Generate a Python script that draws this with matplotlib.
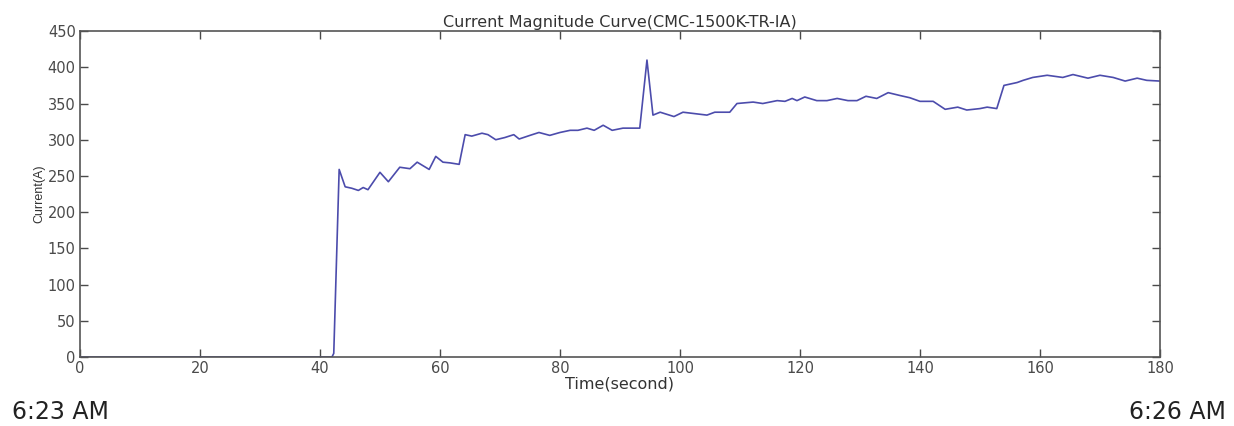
import numpy as np
import matplotlib.pyplot as plt

plt.rcParams['font.family'] = ['DejaVu Sans']

# sampled current magnitude (time in seconds, current in amps)
t_sec = [0, 42.0, 42.3, 43.2, 44.2, 45.3, 46.4, 47.2, 48.0, 50.0, 51.4, 53.3, 55.0,
         56.2, 58.2, 59.3, 60.5, 61.7, 63.2, 64.2, 65.3, 67.0, 68.0, 69.3, 70.8,
         72.3, 73.2, 75.0, 76.5, 78.3, 80.0, 81.7, 83.0, 84.5, 85.7, 87.2, 88.7,
         90.5, 92.0, 93.3, 94.5, 95.5, 96.7, 99.0, 100.5, 104.5, 105.8, 108.3,
         109.5, 112.2, 113.8, 116.2, 117.5, 118.7, 119.5, 120.8, 122.8, 124.5,
         126.2, 128.0, 129.5, 131.0, 132.8, 134.7, 136.7, 138.3, 140.0, 142.2,
         144.2, 146.3, 147.8, 150.0, 151.2, 152.8, 154.0, 156.2, 157.2, 158.8,
         161.2, 163.8, 165.5, 168.0, 170.0, 172.2, 174.2, 176.2, 177.8, 180.0]
current_a = [0, 0, 5, 259, 235, 233, 230, 234, 231, 255, 242, 262, 260,
             269, 259, 277, 269, 268, 266, 307, 305, 309, 307, 300, 303,
             307, 301, 306, 310, 306, 310, 313, 313, 316, 313, 320, 313,
             316, 316, 316, 410, 334, 338, 332, 338, 334, 338, 338,
             350, 352, 350, 354, 353, 357, 354, 359, 354, 354,
             357, 354, 354, 360, 357, 365, 361, 358, 353, 353,
             342, 345, 341, 343, 345, 343, 375, 379, 382, 386,
             389, 386, 390, 385, 389, 386, 381, 385, 382, 381]

x_ticks = np.arange(0, 181, 20)
y_ticks = np.arange(0, 451, 50)

fig = plt.figure(figsize=(12.34, 4.26), dpi=100)
ax = fig.add_axes([0.0648, 0.162, 0.8752, 0.765])

ax.plot(t_sec, current_a, color='#4c4cac', lw=1.2)

ax.set_xlim(0, 180)
ax.set_ylim(0, 450)
ax.set_xticks(x_ticks)
ax.set_yticks(y_ticks)
ax.tick_params(direction='in', top=True, right=True, length=6, width=1,
               labelsize=10.5, colors='#4a4a4a', pad=3)
for s in ax.spines.values():
    s.set_color('#555555')
    s.set_linewidth(1.2)

ax.set_title('Current Magnitude Curve(CMC-1500K-TR-IA)', fontsize=11.5, color='#333333', pad=3)
ax.set_xlabel('Time(second)', fontsize=11.5, color='#333333', labelpad=0)
ax.set_ylabel('Current(A)', fontsize=9, color='#333333', labelpad=2,
              family=['Liberation Sans Narrow', 'Liberation Sans'])

fig.text(12 / 1234, 1 - 419 / 426, '6:23 AM', fontsize=17, color='#222222',
         va='baseline', ha='left')
fig.text(1226 / 1234, 1 - 419 / 426, '6:26 AM', fontsize=17, color='#222222',
         va='baseline', ha='right')

fig.savefig('out.png', dpi=100)
